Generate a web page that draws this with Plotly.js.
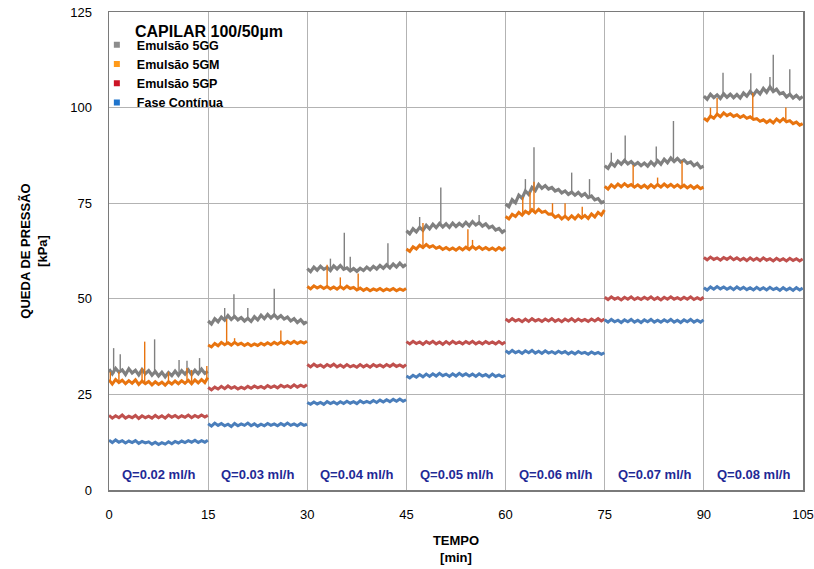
<!DOCTYPE html>
<html>
<head>
<meta charset="utf-8">
<script src="https://cdn.plot.ly/plotly-3.0.1.min.js"></script>
<style>html,body{margin:0;padding:0;background:#fff;}#chart{width:814px;height:569px;}</style>
</head>
<body>
<div id="chart"></div>
<script>
// Segment start times (min) and sampling offsets within each 15-min segment
const SEG_START = [0, 15, 30, 45, 60, 75, 90];
const OFFSETS = [0,0.5,1,1.5,2,2.5,3,3.5,4,4.5,5,5.5,6,6.5,7,7.5,8,8.5,9,9.5,10,10.5,11,11.5,12,12.5,13,13.5,14,14.5,14.95];

const FLOW_LABELS = ['Q=0.02 ml/h','Q=0.03 ml/h','Q=0.04 ml/h','Q=0.05 ml/h','Q=0.06 ml/h','Q=0.07 ml/h','Q=0.08 ml/h'];
const SERIES_NAMES = ['Emulsão 5GG','Emulsão 5GM','Emulsão 5GP','Fase Contínua'];

// Emulsão 5GG (kPa), 31 samples per segment
const GG = [
31.6,30.4,31.8,30.8,31.4,30.2,31.7,30.6,31.3,30.1,31.5,30.4,31.2,30.0,31.0,29.8,30.8,29.6,30.7,29.9,31.1,30.0,31.2,30.3,31.4,30.2,31.3,30.4,31.6,30.5,31.0,
44.2,43.4,44.8,44.0,45.2,44.4,45.6,44.6,45.4,44.5,45.1,44.2,44.9,44.1,45.3,44.5,45.7,44.8,45.9,45.0,45.8,44.9,45.6,44.7,45.2,44.2,44.8,43.8,44.5,43.5,44.0,
57.9,57.1,58.3,57.5,58.5,57.7,58.2,57.4,58.6,57.8,58.7,57.7,58.1,57.3,57.9,57.2,58.0,57.4,58.3,57.6,58.5,57.8,58.7,58.0,58.9,58.1,59.1,58.3,59.3,58.4,59.0,
67.8,67.0,68.3,67.5,68.7,67.9,69.2,68.3,69.5,68.6,69.7,68.8,69.6,68.7,69.8,68.9,69.7,69.0,70.0,69.1,70.2,69.3,69.9,69.0,69.6,68.6,69.0,68.0,68.4,67.4,68.0,
74.8,74.1,75.9,75.1,77.1,76.3,78.2,77.3,79.1,78.3,79.9,78.9,79.6,78.7,79.1,78.2,78.6,77.7,78.2,77.3,77.9,77.1,77.8,76.9,77.5,76.5,76.9,75.9,76.2,75.1,75.5,
84.8,84.1,85.5,84.7,86.0,85.2,86.2,85.3,85.9,85.0,85.6,84.8,85.5,84.7,85.8,84.9,86.1,85.2,86.5,85.6,86.8,85.9,86.7,85.8,86.3,85.4,85.8,84.8,85.4,84.3,84.7,
103.0,102.2,103.5,102.6,103.3,102.4,103.6,102.7,103.5,102.6,103.4,102.5,103.8,103.0,104.2,103.3,104.5,103.6,105.0,104.0,105.4,104.2,104.8,103.6,103.9,102.8,103.5,102.5,103.2,102.3,102.9
];
const GG_SPIKE_T = [0.7,1.7,6.9,10.6,11.8,13.7, 17.5,18.9,21.0,25.0, 33.5,35.6,36.5,42.2, 47.0,50.2,56.0, 63.0,64.3,70.0,72.7, 76.0,78.1,82.8,85.4, 92.9,97.1,100.0,100.5,103.0];
const GG_SPIKE_V = [37.1,35.5,39.4,34.0,33.8,34.5, 47.6,51.2,47.6,52.6, 60.5,67.3,61.0,64.5, 71.4,79.1,71.9, 81.3,89.6,83.0,81.3, 88.2,92.7,89.8,96.5, 109.1,109.0,108.0,113.8,110.0];

// Emulsão 5GM
const GM = [
28.8,27.7,28.9,28.1,28.7,27.8,28.6,27.9,28.8,27.6,28.5,27.8,28.4,27.5,28.3,27.6,28.2,27.4,28.3,27.7,28.5,27.8,28.6,27.9,28.7,27.8,28.8,28.0,28.9,28.1,29.4,
37.9,37.4,38.3,37.7,38.6,38.0,38.5,37.9,38.6,38.0,38.4,37.8,38.3,37.7,38.2,37.8,38.4,37.9,38.5,38.0,38.6,38.1,38.7,38.2,38.8,38.3,38.9,38.3,38.8,38.4,38.9,
53.2,52.6,53.4,52.8,53.3,52.7,53.2,52.6,53.1,52.5,53.2,52.6,53.3,52.7,53.0,52.3,52.8,52.2,52.7,52.1,52.6,52.2,52.7,52.1,52.6,52.2,52.7,52.1,52.6,52.2,52.7,
63.0,62.4,63.6,63.0,64.0,63.4,64.2,63.5,63.9,63.2,63.6,62.9,63.4,62.8,63.3,62.7,63.4,62.8,63.5,62.9,63.7,63.0,63.6,62.9,63.4,62.8,63.3,62.7,63.4,62.8,63.5,
71.5,70.9,72.1,71.5,72.6,71.9,72.9,72.3,73.3,72.5,73.4,72.6,72.9,72.1,72.2,71.3,71.8,70.9,71.6,70.8,71.7,70.9,71.9,71.1,71.8,71.0,72.2,71.4,72.6,71.9,73.2,
79.4,78.7,79.8,79.1,80.0,79.3,80.1,79.4,79.9,79.2,79.8,79.1,79.7,79.0,79.8,79.1,79.9,79.2,80.0,79.3,79.9,79.2,79.8,79.1,79.7,79.0,79.6,78.9,79.5,78.8,79.2,
97.2,96.6,97.8,97.2,98.3,97.6,98.6,97.9,98.4,97.7,98.1,97.4,97.9,97.2,97.6,96.9,97.1,96.4,96.8,96.1,96.7,96.0,97.0,96.3,97.1,96.3,96.6,95.8,96.2,95.4,95.8
];
const GM_SPIKE_T = [0.2,1.5,5.0,5.4,9.0,11.8,12.5,14.8, 17.8,19.0,26.0, 33.0,35.0,37.7, 47.5,54.3,55.0, 62.6,63.7,64.3,67.1,69.0,71.6, 79.3,83.0,86.7, 91.0,92.0,97.4,102.4];
const GM_SPIKE_V = [30.9,30.9,31.9,38.8,30.9,31.9,31.4,32.4, 44.7,39.7,41.7, 58.9,55.6,56.6, 69.8,68.2,65.4, 76.6,77.9,80.6,75.0,75.0,74.1, 85.0,81.7,86.1, 100.0,102.5,103.8,100.0];

// Emulsão 5GP
const GP = [
19.5,18.8,19.4,18.9,19.6,18.8,19.3,18.9,19.5,18.7,19.4,18.9,19.3,18.8,19.5,18.9,19.4,18.8,19.6,19.0,19.5,18.9,19.4,19.0,19.6,18.9,19.5,19.0,19.6,19.1,19.5,
26.8,26.2,26.9,26.4,27.1,26.5,27.2,26.6,27.0,26.4,26.9,26.5,27.1,26.6,27.2,26.7,27.1,26.6,27.3,26.8,27.2,26.7,27.4,26.9,27.3,26.8,27.5,26.9,27.4,27.0,27.5,
32.8,32.2,32.9,32.3,32.7,32.1,32.8,32.3,32.9,32.2,32.7,32.1,32.8,32.2,32.6,32.1,32.8,32.2,32.7,32.1,32.8,32.3,32.7,32.2,32.8,32.3,32.9,32.3,32.7,32.2,32.8,
38.8,38.2,38.9,38.3,38.7,38.1,38.8,38.3,38.9,38.2,38.7,38.1,38.8,38.2,38.9,38.3,38.7,38.2,38.8,38.3,38.9,38.2,38.7,38.2,38.8,38.3,38.7,38.2,38.8,38.2,38.7,
44.7,44.1,44.8,44.2,44.6,44.0,44.7,44.1,44.8,44.2,44.6,44.1,44.7,44.2,44.8,44.1,44.6,44.0,44.7,44.2,44.8,44.1,44.7,44.2,44.6,44.1,44.7,44.2,44.8,44.2,44.7,
50.4,49.8,50.5,49.9,50.3,49.7,50.4,49.9,50.5,49.8,50.3,49.8,50.4,49.9,50.5,49.8,50.3,49.7,50.4,49.9,50.5,49.9,50.3,49.8,50.4,49.9,50.5,49.8,50.3,49.8,50.4,
60.8,60.2,60.9,60.3,60.7,60.1,60.8,60.3,60.9,60.2,60.7,60.1,60.6,60.0,60.7,60.1,60.6,60.0,60.7,60.1,60.5,59.9,60.6,60.0,60.5,59.9,60.6,60.0,60.5,59.9,60.4
];

// Fase Contínua
const FC = [
13.0,12.4,13.1,12.5,12.9,12.3,12.8,12.4,12.9,12.2,12.7,12.3,12.6,12.0,12.5,11.9,12.4,12.0,12.6,12.1,12.7,12.3,12.8,12.4,12.9,12.5,13.0,12.4,12.9,12.5,13.0,
17.3,16.7,17.5,16.9,17.4,16.8,17.2,16.6,17.4,16.8,17.3,16.9,17.5,16.8,17.3,16.7,17.2,16.8,17.4,16.9,17.3,16.8,17.4,16.9,17.5,16.9,17.3,16.8,17.4,16.9,17.2,
22.9,22.4,23.0,22.5,22.9,22.4,23.1,22.6,23.0,22.5,23.1,22.6,23.2,22.7,23.1,22.6,23.3,22.8,23.2,22.8,23.4,22.9,23.5,23.0,23.6,23.1,23.7,23.2,23.8,23.2,23.6,
29.8,29.3,30.0,29.5,30.2,29.6,30.3,29.7,30.4,29.8,30.5,29.9,30.3,29.7,30.4,29.8,30.5,29.9,30.4,29.8,30.3,29.7,30.4,29.8,30.2,29.6,30.3,29.7,30.1,29.6,30.0,
36.4,35.8,36.5,35.9,36.3,35.7,36.4,35.9,36.5,35.8,36.3,35.7,36.4,35.8,36.2,35.7,36.3,35.8,36.2,35.6,36.1,35.6,36.2,35.7,36.0,35.5,36.1,35.6,36.0,35.5,35.9,
44.5,43.9,44.6,44.0,44.4,43.8,44.5,44.0,44.6,43.9,44.4,43.8,44.5,44.0,44.6,43.9,44.4,43.9,44.5,44.0,44.6,43.9,44.4,43.8,44.5,44.0,44.6,43.9,44.4,43.9,44.5,
52.9,52.3,53.1,52.5,53.2,52.6,53.1,52.5,53.0,52.4,53.1,52.5,53.0,52.4,52.9,52.3,53.0,52.4,52.9,52.3,53.0,52.4,52.8,52.2,52.9,52.3,52.8,52.2,52.9,52.3,52.8
];

const LINE_COLORS = ['#808080', '#e8740f', '#c0504d', '#4a7ebb'];
const LINE_WIDTHS = [3.2, 3.0, 3.0, 3.0];
const LEGEND_COLORS = ['#8c8c8c', '#ff9a1a', '#cc1425', '#1f74cc'];

function buildXY(vals) {
  const x = [], y = [];
  const n = OFFSETS.length;
  SEG_START.forEach((s, k) => {
    for (let i = 0; i < n; i++) { x.push(s + OFFSETS[i]); y.push(vals[k * n + i]); }
    x.push(null); y.push(null);
  });
  return {x, y};
}
function nearestBase(vals, t) {
  const n = OFFSETS.length;
  let k = Math.min(SEG_START.length - 1, Math.floor(t / 15));
  const off = t - SEG_START[k];
  let best = 0, bd = 1e9;
  OFFSETS.forEach((o, i) => { const d = Math.abs(o - off); if (d < bd) { bd = d; best = i; } });
  return vals[k * n + best];
}
function buildSpikes(vals, ts, vs) {
  const x = [], y = [];
  ts.forEach((t, i) => { x.push(t, t, null); y.push(nearestBase(vals, t), vs[i], null); });
  return {x, y};
}

const allVals = [GG, GM, GP, FC];
const traces = [];
allVals.forEach((v, i) => {
  const xy = buildXY(v);
  traces.push({x: xy.x, y: xy.y, type: 'scatter', mode: 'lines', name: SERIES_NAMES[i],
    showlegend: false, connectgaps: false, hoverinfo: 'skip',
    line: {color: LINE_COLORS[i], width: LINE_WIDTHS[i], shape: 'linear'}});
  if (i === 0 || i === 1) {
    const sp = i === 0 ? buildSpikes(GG, GG_SPIKE_T, GG_SPIKE_V) : buildSpikes(GM, GM_SPIKE_T, GM_SPIKE_V);
    traces.push({x: sp.x, y: sp.y, type: 'scatter', mode: 'lines', showlegend: false,
      hoverinfo: 'skip', line: {color: LINE_COLORS[i], width: 1.4}});
  }
});
SERIES_NAMES.forEach((nm, i) => {
  traces.push({x: [null], y: [null], type: 'scatter', mode: 'markers', name: nm,
    marker: {symbol: 'square', size: 6, color: LEGEND_COLORS[i]}});
});

const annotations = FLOW_LABELS.map((lab, k) => ({
  x: SEG_START[k] + 7.5, y: 4.1, xref: 'x', yref: 'y', text: '<b>' + lab + '</b>',
  showarrow: false, font: {family: 'Liberation Sans, Arial, sans-serif', size: 13, color: '#1f2a96'}
}));
annotations.push({
  x: 0.0346, y: 0.960, xref: 'paper', yref: 'paper', xanchor: 'left', yanchor: 'middle',
  text: '<b>CAPILAR 100/50µm</b>', showarrow: false,
  font: {family: 'Liberation Sans, Arial, sans-serif', size: 16, color: '#000'}
});

const layout = {
  width: 814, height: 569,
  margin: {l: 109, r: 11, t: 12, b: 79.2, pad: 0},
  paper_bgcolor: '#fff', plot_bgcolor: '#fff',
  font: {family: 'Liberation Sans, Arial, sans-serif', size: 13, color: '#000'},
  showlegend: true,
  legend: {x: -0.0175, xanchor: 'left', y: 0.962, yanchor: 'top', bgcolor: 'rgba(0,0,0,0)',
    borderwidth: 0, font: {size: 12.5, color: '#000', family: 'Liberation Sans, Arial, sans-serif', weight: 'bold'},
    itemwidth: 30, tracegroupgap: 0},
  xaxis: {range: [0, 105], tickvals: [0, 15, 30, 45, 60, 75, 90, 105], ticktext: ['0','15','30','45','60','75','90','105'],
    showgrid: true, gridcolor: '#b3b3b3', gridwidth: 1, zeroline: false,
    showline: true, linecolor: '#7a7a7a', linewidth: 1.5, mirror: true,
    ticks: '', ticklabelstandoff: 12,
    title: {text: '<b>TEMPO</b><br><b>[min]</b>', font: {size: 13, color: '#000'}, standoff: 15}},
  yaxis: {range: [0, 125], tickvals: [0, 25, 50, 75, 100, 125],
    showgrid: true, gridcolor: '#b3b3b3', gridwidth: 1, zeroline: false,
    showline: true, linecolor: '#7a7a7a', linewidth: 1.5, mirror: true,
    ticks: '', ticklabelstandoff: 13,
    title: {text: '<b>QUEDA DE PRESSÃO</b><br><b>[kPa]</b>', font: {size: 13, color: '#000'}, standoff: 19}},
  annotations: annotations
};

Plotly.newPlot('chart', traces, layout, {displayModeBar: false, staticPlot: true});
</script>
</body>
</html>
